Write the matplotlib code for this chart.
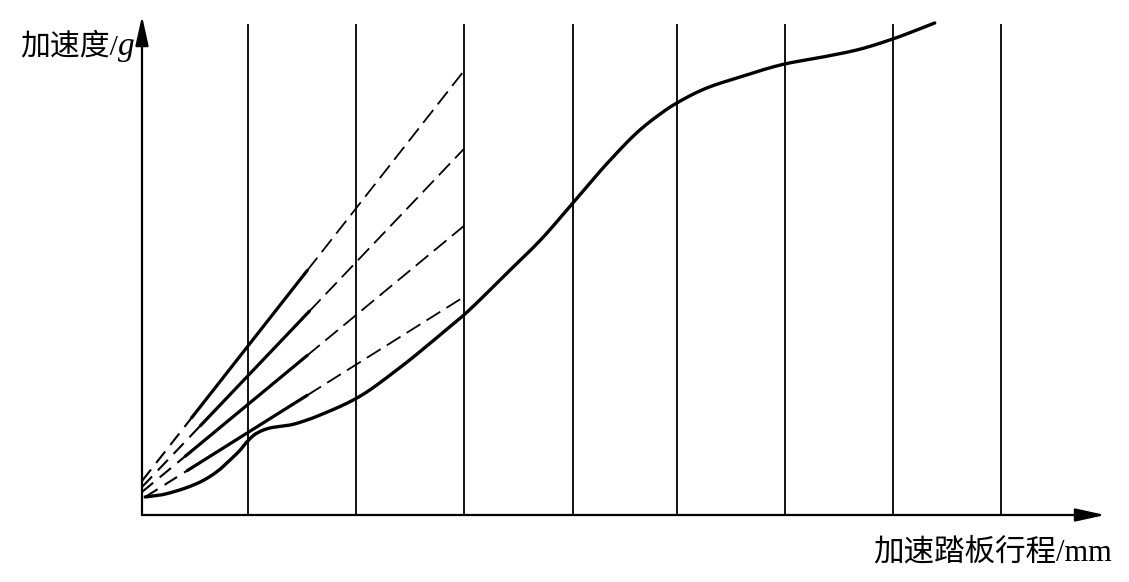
import numpy as np
import matplotlib
matplotlib.use("Agg")
import matplotlib.pyplot as plt

## curve values (x in grid steps, y same scale)
main_x = [0.03, 0.17, 0.35, 0.54, 0.69, 0.815, 0.91, 0.97, 1.065, 1.185, 1.37, 1.53,
          1.65, 1.99, 2.36, 2.76, 2.99, 3.38, 3.69, 3.99, 4.31, 4.61, 4.78, 4.92, 5.23,
          5.54, 5.95, 6.3, 6.62, 6.95, 7.34]
main_y = [0.167, 0.185, 0.232, 0.306, 0.398, 0.509, 0.602, 0.676, 0.759, 0.806, 0.833,
          0.880, 0.926, 1.083, 1.343, 1.667, 1.861, 2.241, 2.546, 2.889, 3.259, 3.565,
          3.70, 3.796, 3.954, 4.056, 4.176, 4.24, 4.306, 4.407, 4.556]

## fan lines: start / end of each line and where the solid part sits
fan_x0 = [0.0, 0.0, 0.0, 0.03]
fan_y0 = [0.315, 0.259, 0.213, 0.167]
fan_x1 = [2.98, 2.98, 2.98, 2.98]
fan_y1 = [4.111, 3.389, 2.676, 2.019]
solid_from = [0.46, 0.54, 0.40, 0.42]
solid_to = [1.53, 1.55, 1.53, 1.53]

grid_x = [0.98, 1.98, 2.98, 3.99, 4.95, 5.95, 6.95, 7.95]
grid_top = 4.546

x_label = "加速踏板行程/mm"
y_label = "加速度/"


def smooth(xs, ys, n=400):
    ## monotone cubic (fritsch-carlson) through the read points, only for drawing
    x = np.asarray(xs, float)
    y = np.asarray(ys, float)
    h = np.diff(x)
    d = np.diff(y) / h
    m = np.zeros_like(y)
    m[0], m[-1] = d[0], d[-1]
    for k in range(1, len(x) - 1):
        if d[k - 1] * d[k] > 0:
            w1 = 2 * h[k] + h[k - 1]
            w2 = h[k] + 2 * h[k - 1]
            m[k] = (w1 + w2) / (w1 / d[k - 1] + w2 / d[k])
    xx = np.linspace(x[0], x[-1], n)
    idx = np.clip(np.searchsorted(x, xx) - 1, 0, len(x) - 2)
    t = (xx - x[idx]) / h[idx]
    h00 = 2 * t ** 3 - 3 * t ** 2 + 1
    h10 = t ** 3 - 2 * t ** 2 + t
    h01 = -2 * t ** 3 + 3 * t ** 2
    h11 = t ** 3 - t ** 2
    yy = h00 * y[idx] + h10 * h[idx] * m[idx] + h01 * y[idx + 1] + h11 * h[idx] * m[idx + 1]
    return xx, yy


W, H = 1129, 582
fig = plt.figure(figsize=(W / 100, H / 100), dpi=100)
ox, oy = 142, 515
scale = 108.0
ax = fig.add_axes([ox / W, (H - oy) / H, 963 / W, 499 / H])
ax.set_xlim(0, 963 / scale)
ax.set_ylim(0, 499 / scale)
ax.axis("off")

## vertical ruler lines
for gx in grid_x:
    ax.plot([gx, gx], [0, grid_top], color="black", lw=1.3, solid_capstyle="butt")

## axes with arrows
arrow = dict(arrowstyle="-|>,head_length=0.9,head_width=0.2", mutation_scale=20,
             color="black", lw=1.6, shrinkA=0, shrinkB=0)
ax.annotate("", xy=(963 / scale, 0), xytext=(0, 0), arrowprops=arrow,
            annotation_clip=False)
ax.annotate("", xy=(0, 499 / scale), xytext=(0, 0), arrowprops=arrow,
            annotation_clip=False)

## fan lines
for i in range(len(fan_x0)):
    slope = (fan_y1[i] - fan_y0[i]) / (fan_x1[i] - fan_x0[i])
    def y_at(x):
        return fan_y0[i] + slope * (x - fan_x0[i])
    ax.plot([fan_x0[i], solid_from[i]], [fan_y0[i], y_at(solid_from[i])],
            color="black", lw=1.5, dashes=(7, 4))
    ax.plot([solid_from[i], solid_to[i]], [y_at(solid_from[i]), y_at(solid_to[i])],
            color="black", lw=2.3, solid_capstyle="round")
    ax.plot([solid_to[i], fan_x1[i]], [y_at(solid_to[i]), fan_y1[i]],
            color="black", lw=1.3, dashes=(9, 4))

## main curve
sx, sy = smooth(main_x, main_y)
ax.plot(sx, sy, color="black", lw=2.4, solid_joinstyle="round",
        solid_capstyle="round")

## labels
cjk = ["Liberation Serif", "Noto Sans CJK SC"]
fig.text(873 / W, 1 - 553 / H, x_label, family=cjk, fontsize=22,
         ha="left", va="center")
fig.text(118 / W, 1 - 47 / H, y_label, family=cjk, fontsize=21.5,
         ha="right", va="center")
fig.text(118 / W, 1 - 47 / H, "g", family="Liberation Serif", style="italic",
         fontsize=24, ha="left", va="center")

fig.savefig("out.png", dpi=100, facecolor="white")
